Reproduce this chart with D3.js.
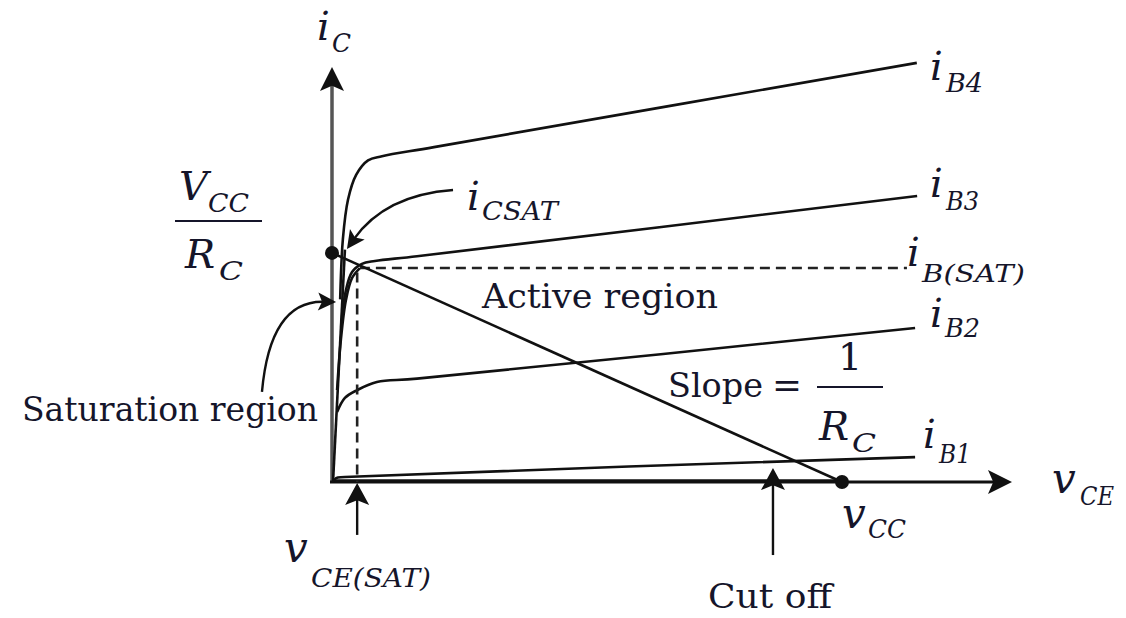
<!DOCTYPE html>
<html><head><meta charset="utf-8">
<script src="https://cdn.jsdelivr.net/npm/d3@7"></script>
<style>
html,body{margin:0;padding:0;background:#fff;}
svg{display:block;}
</style>
</head><body>
<svg id="c" width="1126" height="618" font-family="DejaVu Serif"></svg>
<script>
// ---- data (vCE, iC) in arbitrary units ----
const vCC = 15;            // supply voltage (x intercept of load line)
const iCmax = 11.04;       // VCC / RC (y intercept of load line)
const vCEsat = 0.74;       // vCE(SAT)
const vCutoff = 12.97;     // cut-off pointer
const iBsatLevel = 10.31;  // iB(SAT) level
const iBsatEnd = 16.91;

const satLine = [[0.03,0],[0.38,11.2]];
const curveIB0 = [[0.03,0.08],[15,0.08]];
const curveIB1 = [[0.03,0],[0.12,0.19],[0.38,0.24],[17.15,1.2]];
const curveIB2 = [[0.15,3.37],[0.38,4.05],[0.74,4.43],[1.32,4.82],[2.5,4.98],[17.15,7.42]];
const curveIBsat = [[0.15,4.43],[0.26,6.84],[0.41,8.77],[0.59,9.83],[0.82,10.31]];
const curveIB3 = [[0.29,7.81],[0.41,9.25],[0.59,10.12],[0.88,10.51],[1.26,10.65],[2.5,10.88],[17.21,13.78]];
const curveIB4 = [[0.24,8.8],[0.32,11.7],[0.47,13.6],[0.71,14.8],[1.06,15.5],[1.47,15.7],[3.0,16.14],[17.2,20.2]];

// annotation pointers (data units)
const arrowICsat = [[3.56,14.07],[1.56,13.83],[0.44,11.23]];   // start, control, tip
const arrowSat   = [[-2.06,4.34],[-1.82,8.77],[0.12,8.67]];
const arrowVCEsat = [[vCEsat,-2.55],[vCEsat,-0.05]];
const arrowCutoff = [[vCutoff,-3.52],[vCutoff,0.67]];

// ---- scales ----
const xs = d3.scaleLinear().domain([0,20]).range([332,1012]);
const ys = d3.scaleLinear().domain([0,20]).range([482,67]);

const TXT = "#15152a";

const svg = d3.select("#c");
svg.append("rect").attr("width",1126).attr("height",618).attr("fill","#fff");

const lineGen = d3.line().x(d=>xs(d[0])).y(d=>ys(d[1])).curve(d3.curveCatmullRom.alpha(0.5));
const straight = d3.line().x(d=>xs(d[0])).y(d=>ys(d[1]));

function arrowHead(tx,ty,ang,len,half){
  const dx=Math.cos(ang), dy=Math.sin(ang);
  const px=-dy, py=dx;
  const bx=tx-len*dx, by=ty-len*dy;
  const nx=tx-0.78*len*dx, ny=ty-0.78*len*dy;
  return `M${tx},${ty}L${bx+half*px},${by+half*py}L${nx},${ny}L${bx-half*px},${by-half*py}Z`;
}

// ---- axes ----
svg.append("line").attr("x1",xs(0)).attr("y1",ys(0)+1).attr("x2",xs(0)).attr("y2",ys(20)+18)
  .attr("stroke","#555").attr("stroke-width",3.5);
svg.append("path").attr("d",arrowHead(xs(0),ys(20),-Math.PI/2,24,12)).attr("fill","#111");
svg.append("line").attr("x1",xs(0)-2).attr("y1",ys(0)).attr("x2",xs(20)-18).attr("y2",ys(0))
  .attr("stroke","#111").attr("stroke-width",3);
svg.append("path").attr("d",arrowHead(xs(20),ys(0),0,24,12)).attr("fill","#111");

// ---- curves ----
const g = svg.append("g").attr("fill","none").attr("stroke","#111").attr("stroke-width",2.6);
g.append("path").attr("d",straight(curveIB0)).attr("stroke-width",2);
g.append("path").attr("d",straight(satLine));
[curveIB1,curveIB2,curveIBsat,curveIB3,curveIB4].forEach(c=>g.append("path").attr("d",lineGen(c)));
g.append("path").attr("d",straight([[0.82,iBsatLevel],[iBsatEnd,iBsatLevel]]))
  .attr("stroke-dasharray","10,6").attr("stroke","#222");
g.append("path").attr("d",straight([[vCEsat,10.1],[vCEsat,0]]))
  .attr("stroke-dasharray","10,6").attr("stroke","#222");
g.append("path").attr("d",straight([[0,iCmax],[vCC,0]]));

svg.append("circle").attr("cx",xs(0)).attr("cy",ys(iCmax)).attr("r",7).attr("fill","#111");
svg.append("circle").attr("cx",xs(vCC)).attr("cy",ys(0)).attr("r",7).attr("fill","#111");

function curvedArrow(p){
  const [s,c,t]=p.map(d=>[xs(d[0]),ys(d[1])]);
  const ang=Math.atan2(t[1]-c[1],t[0]-c[0]);
  const ex=t[0]-12*Math.cos(ang), ey=t[1]-12*Math.sin(ang);
  svg.append("path").attr("d",`M${s[0]},${s[1]}Q${c[0]},${c[1]} ${ex},${ey}`)
    .attr("fill","none").attr("stroke","#111").attr("stroke-width",2.4);
  svg.append("path").attr("d",arrowHead(t[0],t[1],ang,18,9)).attr("fill","#111");
}
curvedArrow(arrowICsat);
curvedArrow(arrowSat);
function straightArrow(p){
  const [s,t]=p.map(d=>[xs(d[0]),ys(d[1])]);
  const ang=Math.atan2(t[1]-s[1],t[0]-s[0]);
  svg.append("line").attr("x1",s[0]).attr("y1",s[1]).attr("x2",t[0]-14*Math.cos(ang)).attr("y2",t[1]-14*Math.sin(ang))
    .attr("stroke","#111").attr("stroke-width",2.4);
  svg.append("path").attr("d",arrowHead(t[0],t[1],ang,22,12)).attr("fill","#111");
}
straightArrow(arrowVCEsat);
straightArrow(arrowCutoff);

// ---- text ----
const T = svg.append("g").attr("font-family","DejaVu Serif").attr("fill",TXT);
function plain(t,px,py,size,w){
  const e=T.append("text").attr("x",px).attr("y",py).attr("font-size",size).text(t);
  if(w) e.attr("textLength",w).attr("lengthAdjust","spacingAndGlyphs");
  return e;
}
function sym(main,sub,px,py,size,sx,sy,ssize,sw){
  T.append("text").attr("x",px).attr("y",py).attr("font-size",size).attr("font-style","italic").text(main);
  const e=T.append("text").attr("x",sx).attr("y",sy).attr("font-size",ssize).attr("font-style","italic").text(sub);
  if(sw) e.attr("textLength",sw).attr("lengthAdjust","spacingAndGlyphs");
}
plain("Active region",482,308,34,236);
plain("Saturation region",22,421,34,296);
plain("Cut off",708,608,34,124);
plain("Slope",668,397,34,95);
plain("=",772,397,36,30);
plain("1",838,370,38);
svg.append("line").attr("x1",817).attr("x2",883).attr("y1",387).attr("y2",387).attr("stroke",TXT).attr("stroke-width",2.2);
sym("R","C",819,440,40,852,452,26,24);

sym("i","C",317,40,40,332,52,26,19);
sym("V","CC",179,200,40,208,212,26,41);
svg.append("line").attr("x1",175).attr("x2",262).attr("y1",221).attr("y2",221).attr("stroke",TXT).attr("stroke-width",2.2);
sym("R","C",185,268,40,219,280,26,24);

sym("i","CSAT",467,210,40,482,220,26,76);
sym("i","B4",930,80,40,946,92,26,37);
sym("i","B3",930,197,40,946,210,26,33);
sym("i","B(SAT)",907,266,40,922,282,24,103);
sym("i","B2",930,327,40,945,337,26,35);
sym("i","B1",923,448,40,939,463,26,32);
sym("v","CE",1052,493,42,1080,505,26,34);
sym("v","CC",842,528,42,868,538,26,38);
sym("v","CE(SAT)",284,562,42,311,587,26,120);
</script>
</body></html>
